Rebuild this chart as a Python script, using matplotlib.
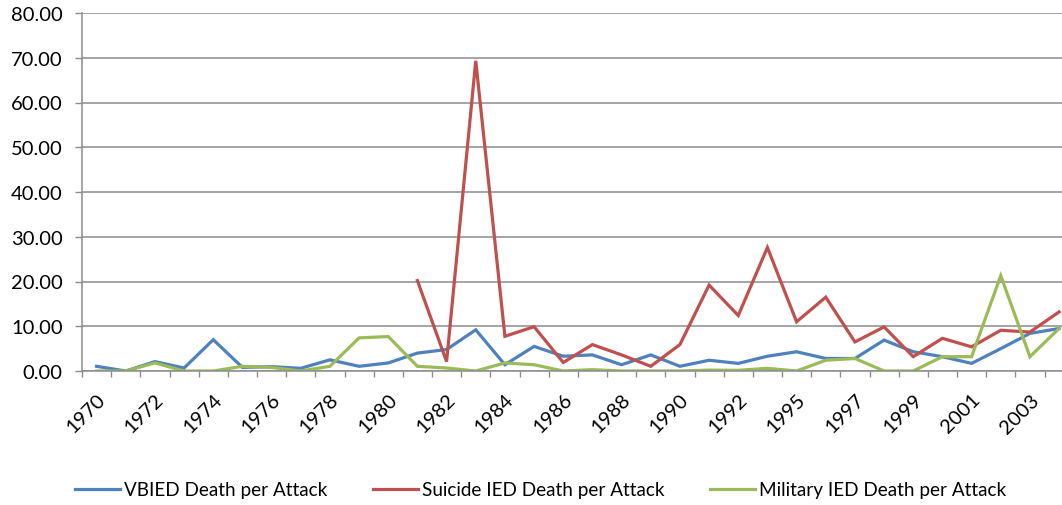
import numpy as np
import matplotlib
matplotlib.use("Agg")
import matplotlib.pyplot as plt

# GTD has no 1993 records, so the category axis skips it
years = [str(y) for y in range(1970, 1993)] + [str(y) for y in range(1994, 2005)]

vbied = [1.05, 0.0, 2.1, 0.67, 7.0, 0.8, 0.97, 0.6, 2.5, 1.05, 1.8,
         4.0, 4.8, 9.2, 1.4, 5.5, 3.3, 3.6, 1.4, 3.6, 1.05, 2.4,
         1.7, 3.3, 4.3, 2.8, 2.8, 6.9, 4.3, 3.2, 1.7, 5.0, 8.4, 9.5]

suicide_ied = [np.nan] * 11 + [
         20.2, 2.1, 69.3, 7.75, 9.9, 1.9, 5.9, 3.6, 1.05, 5.9, 19.2,
         12.4, 27.6, 11.0, 16.5, 6.5, 9.85, 3.2, 7.3, 5.4, 9.1, 8.7, 13.2]

military_ied = [0.0, 0.0, 1.8, 0.0, 0.0, 1.05, 0.8, 0.0, 1.05, 7.4, 7.7,
                1.05, 0.67, 0.0, 1.8, 1.4, 0.0, 0.3, 0.0, 0.0, 0.0, 0.2,
                0.15, 0.6, 0.0, 2.4, 2.8, 0.0, 0.0, 3.2, 3.2, 21.3, 3.2, 9.5]

series_labels = ["VBIED Death per Attack", "Suicide IED Death per Attack",
                 "Military IED Death per Attack"]
colors = ["#4F81BD", "#C0504D", "#9BBB59"]

plt.rcParams["font.family"] = ["Lato", "DejaVu Sans"]

fig = plt.figure(figsize=(10.62, 5.06), dpi=100)
ax = fig.add_axes([82 / 1062, 1 - 372 / 506, 1 - 82 / 1062, 358 / 506])

x = np.arange(len(years))
for data, label, c in zip([vbied, suicide_ied, military_ied], series_labels, colors):
    ax.plot(x, data, color=c, lw=2.3, label=label, solid_joinstyle="miter")

ax.set_ylim(0, 80)
ax.set_yticks(np.arange(0, 81, 10))
ax.set_yticklabels([f"{v:.2f}" for v in range(0, 81, 10)], fontsize=14.5)
ax.yaxis.grid(True, color="#8c8c8c", lw=1.1)
ax.set_axisbelow(True)

# tick marks sit between categories, labels on every other category
ax.set_xticks(np.arange(-0.5, 33.6, 1), minor=False)
ax.set_xticklabels([])
ax.set_xticks(x[::2], minor=True)
ax.set_xticklabels(years[::2], minor=True, rotation=45, ha="right",
                   va="top", rotation_mode="anchor", fontsize=14.5)
ax.set_xlim(-0.5, 33.1)
ax.tick_params(axis="x", which="major", length=4.5, color="#8c8c8c", width=1)
ax.tick_params(axis="x", which="minor", length=0, pad=14)
ax.tick_params(axis="y", length=5, color="#8c8c8c", width=1, pad=9)

for side in ["top", "right"]:
    ax.spines[side].set_visible(False)
for side in ["left", "bottom"]:
    ax.spines[side].set_color("#8c8c8c")
    ax.spines[side].set_linewidth(1.1)

fig.legend(loc="lower center", bbox_to_anchor=(0.509, -0.02), ncol=3,
           frameon=False, fontsize=13.6, handlelength=2.4, handletextpad=0.2,
           columnspacing=2.4)

fig.savefig("out.png", dpi=100)
